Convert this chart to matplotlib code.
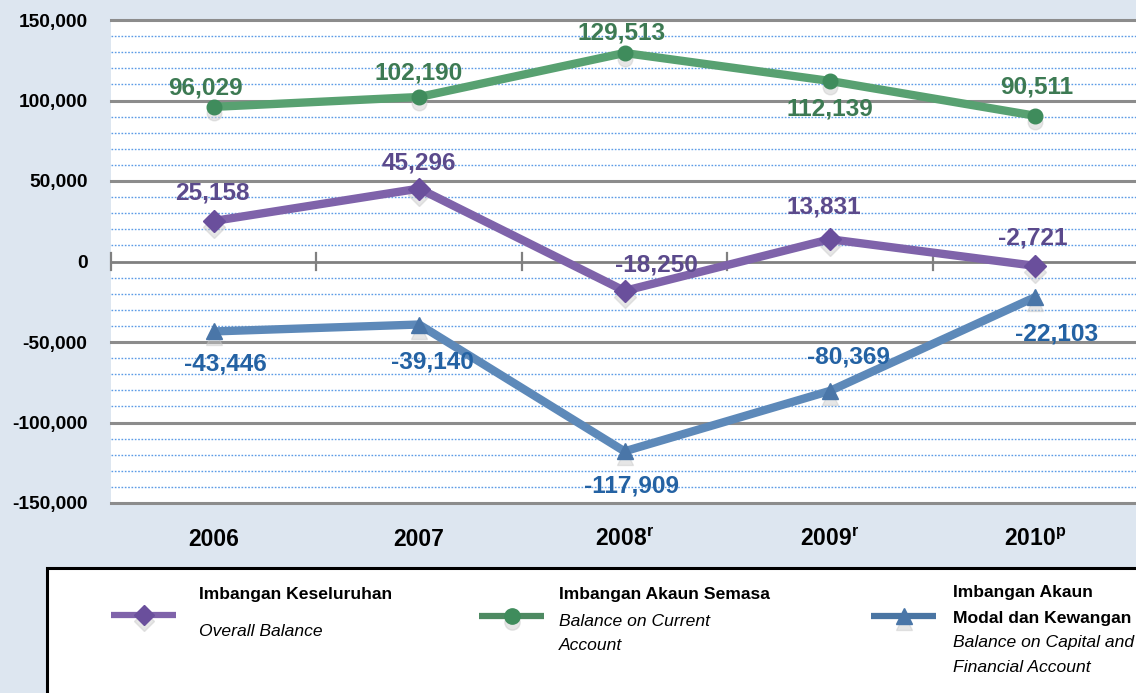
import matplotlib
matplotlib.use("Agg")
import matplotlib.pyplot as plt
from matplotlib.lines import Line2D
from matplotlib.patches import Rectangle
from matplotlib.ticker import MultipleLocator, FuncFormatter
import matplotlib.transforms as mtransforms

plt.rcParams['font.family'] = ['Liberation Sans', 'DejaVu Sans']
plt.rcParams['mathtext.fontset'] = 'custom'
plt.rcParams['mathtext.rm'] = 'Liberation Sans:bold'
plt.rcParams['mathtext.bf'] = 'Liberation Sans:bold'

years = ['2006', '2007', '2008$^{\\mathbf{r}}$', '2009$^{\\mathbf{r}}$', '2010$^{\\mathbf{p}}$']
overall = [25158, 45296, -18250, 13831, -2721]
current = [96029, 102190, 129513, 112139, 90511]
capital = [-43446, -39140, -117909, -80369, -22103]

# label offsets in pixels (dx, dy)
off_overall = [(-1, 28), (0, 26), (32, 26), (-6, 32), (-3, 28)]
off_current = [(-8, 19), (0, 24), (-3, 20), (0, -28), (1, 29)]
off_capital = [(12, -33), (13, -37), (7, -35), (19, 34), (21, -37)]

W, H = 1136, 693
bg = '#dde6f0'
fig = plt.figure(figsize=(W / 100, H / 100), dpi=100, facecolor=bg)
ax = fig.add_axes([111 / W, 1 - 503 / H, 1027 / W, 483 / H])
ax.set_facecolor('white')

x = list(range(len(years)))
ax.set_xlim(-0.5, 4.5)
ax.set_ylim(-150000, 150000)

# grid: dotted blue every 10,000, solid grey every 50,000
for v in range(-140000, 150000, 10000):
    if v % 50000 != 0:
        ax.axhline(v, color='#5b9be6', lw=1.0, ls=(0, (1.2, 1.2)), zorder=1)
for v in [-150000, -100000, -50000, 50000, 100000, 150000]:
    ax.axhline(v, color='#8c8c8c', lw=2.2, zorder=1, clip_on=False)
ax.axhline(0, color='#808080', lw=2.0, zorder=2)
for b in [-0.5, 0.5, 1.5, 2.5, 3.5]:
    ax.plot([b, b], [-5500, 5500], color='#808080', lw=1.6, zorder=2, clip_on=False)

for s in ax.spines.values():
    s.set_visible(False)

series = [
    (overall, off_overall, '#7f63aa', '#6a4f9c', '#5b4a8c', 'D', 11),
    (current, off_current, '#58a171', '#3f8c5c', '#3d7a53', 'o', 10.5),
    (capital, off_capital, '#5d89b9', '#4a76a8', '#2462a3', '^', 12),
]
shadow = mtransforms.offset_copy(ax.transData, fig=fig, x=0, y=-6, units='dots')
for vals, offs, lc, mc, tc, mk, ms in series:
    ax.plot(x, vals, color='#c8c8c8', marker=mk, ms=ms, lw=0, alpha=0.45,
            transform=shadow, zorder=3)
    ax.plot(x, vals, color=lc, lw=6, zorder=4, solid_capstyle='butt')
    ax.plot(x, vals, color=mc, marker=mk, ms=ms, lw=0, zorder=5,
            markeredgecolor=mc)
    for xi, v, (dx, dy) in zip(x, vals, offs):
        ax.annotate(f'{v:,}', (xi, v), xytext=(dx, dy), textcoords='offset pixels',
                    ha='center', va='center', fontsize=17.6, fontweight='bold',
                    color=tc, zorder=6)

ax.yaxis.set_major_locator(MultipleLocator(50000))
ax.yaxis.set_major_formatter(FuncFormatter(lambda v, p: f'{int(v):,}'))
ax.tick_params(axis='y', length=0, pad=17)
for lab in ax.get_yticklabels():
    lab.set_fontweight('bold')
    lab.set_fontsize(13.8)

ax.set_xticks(x)
ax.set_xticklabels(years, fontsize=16.5, fontweight='bold')
ax.tick_params(axis='x', length=0, pad=18)

# legend box
ft = fig.transFigure
def fx(px):
    return px / W
def fy(py):
    return 1 - py / H

fig.patches.append(Rectangle((fx(47), fy(720)), fx(1200) - fx(47), fy(568) - fy(720),
                             transform=ft, facecolor='white', edgecolor='black',
                             lw=2.2, zorder=0))
legend_items = [
    (111, 176, 615, '#7f63aa', '#6a4f9c', 'D', 10),
    (479, 544, 616, '#4e8a62', '#3f8c5c', 'o', 11),
    (871, 936, 616, '#4a75a3', '#4a76a8', '^', 12),
]
for x0, x1, yy, lc, mc, mk, ms in legend_items:
    fig.add_artist(Line2D([fx((x0 + x1) / 2)], [fy(yy + 6)], transform=ft,
                          color='#c8c8c8', alpha=0.45, marker=mk, ms=ms, lw=0))
    fig.add_artist(Line2D([fx(x0), fx(x1)], [fy(yy), fy(yy)], transform=ft,
                          color=lc, lw=4.5, solid_capstyle='butt'))
    fig.add_artist(Line2D([fx((x0 + x1) / 2)], [fy(yy)], transform=ft, color=mc,
                          marker=mk, ms=ms, lw=0))

legend_texts = [
    (199, 595, 'Imbangan Keseluruhan', 'bold', 'normal'),
    (199, 632, 'Overall Balance', 'normal', 'italic'),
    (559, 595, 'Imbangan Akaun Semasa', 'bold', 'normal'),
    (559, 621, 'Balance on Current', 'normal', 'italic'),
    (559, 645, 'Account', 'normal', 'italic'),
    (953, 593, 'Imbangan Akaun', 'bold', 'normal'),
    (953, 619, 'Modal dan Kewangan', 'bold', 'normal'),
    (953, 643, 'Balance on Capital and', 'normal', 'italic'),
    (953, 668, 'Financial Account', 'normal', 'italic'),
]
for px, py, t, w, st in legend_texts:
    fig.text(fx(px), fy(py), t, fontsize=12.6, fontweight=w, fontstyle=st,
             ha='left', va='center', color='black')

fig.savefig('out.png', dpi=100, facecolor=bg)
